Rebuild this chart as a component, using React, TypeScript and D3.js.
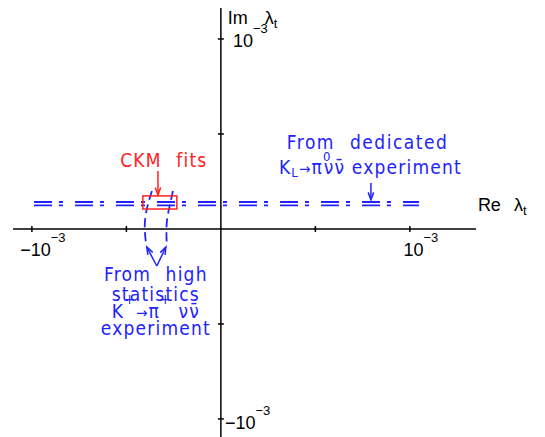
import React, { useEffect, useRef } from 'react';
import * as d3 from 'd3';

// all values in units of 1e-3
const reDomain = [-1.1, 1.35];
const imDomain = [-1.095, 1.163];
const reTicks = [-1, -0.5, 0.5, 1];
const imTicks = [-1, -0.5, 0.5, 1];
const labelledTicks = [-1, 1];

// KL -> pi0 nu nubar band (two dashed lines)
const klBandIm = [0.124, 0.142];
const klBandRe = [-0.989, 1.048];

// CKM fit box
const ckmRe = [-0.413, -0.233];
const ckmIm = [0.105, 0.174];

// K+ -> pi+ nu nubar constraint, two dashed curves
const kplusLeft: [number, number][] = [
  [-0.365, 0.2], [-0.381, 0.147], [-0.394, 0.095], [-0.402, 0.037], [-0.402, -0.016], [-0.397, -0.068],
];
const kplusRight: [number, number][] = [
  [-0.254, 0.2], [-0.265, 0.147], [-0.278, 0.089], [-0.286, 0.037], [-0.288, -0.026], [-0.286, -0.084],
];

// arrows: [from, to]
const redArrows: [number, number][][] = [[[-0.333, 0.305], [-0.333, 0.179]]];
const blueArrows: [number, number][][] = [
  [[0.794, 0.242], [0.794, 0.153]],
  [[-0.339, -0.195], [-0.392, -0.095]],
  [[-0.339, -0.195], [-0.291, -0.095]],
];

const BLUE = '#2222ff';
const RED = '#ff2222';
const HERSHEY = '"DejaVu Sans Condensed", "DejaVu Sans", sans-serif';
const AXISFONT = '"Liberation Sans", Arial, sans-serif';

type Part = { t: string; dy?: number; dx?: number; size?: number };

const App = () => {
  const ref = useRef<SVGSVGElement | null>(null);

  useEffect(() => {
    const svg = d3.select(ref.current);
    svg.selectAll('*').remove();

    const x = d3.scaleLinear().domain(reDomain).range([13, 476]);
    const y = d3.scaleLinear().domain(imDomain).range([437, 8]);
    const x0 = x(0), y0 = y(0);

    const rich = (px: number, py: number, parts: Part[], opts: any) => {
      const t = svg.append('text')
        .attr('x', px).attr('y', py)
        .attr('fill', opts.color)
        .attr('font-family', opts.font)
        .attr('font-size', opts.size)
        .attr('text-anchor', opts.anchor || 'start')
        .style('letter-spacing', (opts.ls || 0) + 'px')
        .style('word-spacing', (opts.ws || 0) + 'px')
        .style('white-space', 'pre');
      let shift = 0;
      parts.forEach(p => {
        const dy = (p.dy || 0) - shift;
        shift = p.dy || 0;
        const s = t.append('tspan').text(p.t).attr('dy', dy);
        if (p.dx) s.attr('dx', p.dx);
        if (p.size) s.attr('font-size', p.size);
      });
      return t;
    };

    // axes
    svg.append('line').attr('x1', x(reDomain[0])).attr('x2', x(reDomain[1]))
      .attr('y1', y0).attr('y2', y0).attr('stroke', '#000').attr('stroke-width', 1.5);
    svg.append('line').attr('x1', x0).attr('x2', x0)
      .attr('y1', y(imDomain[0])).attr('y2', y(imDomain[1])).attr('stroke', '#000').attr('stroke-width', 1.5);

    svg.selectAll('.xt').data(reTicks).enter().append('line')
      .attr('x1', d => x(d)).attr('x2', d => x(d))
      .attr('y1', y0 - 3).attr('y2', y0 + 3).attr('stroke', '#000').attr('stroke-width', 1.5);
    svg.selectAll('.yt').data(imTicks).enter().append('line')
      .attr('y1', d => y(d)).attr('y2', d => y(d))
      .attr('x1', x0 - 3).attr('x2', x0 + 3).attr('stroke', '#000').attr('stroke-width', 1.5);

    labelledTicks.forEach(v => {
      rich(x(v) + 11, y0 + 27, [
        { t: (v < 0 ? '\u2212' : '') + '10' },
        { t: '\u22123', dy: -14, size: 13 },
      ], { color: '#000', font: AXISFONT, size: 18, anchor: 'middle' });
      rich(x0 + (v < 0 ? 4 : 12), y(v) + (v < 0 ? 10 : 8), [
        { t: (v < 0 ? '\u2212' : '') + '10' },
        { t: '\u22123', dy: -14, size: 13 },
      ], { color: '#000', font: AXISFONT, size: 18 });
    });

    rich(x(0.037), y(1.079), [
      { t: 'Im' }, { t: '\u03bb', dx: 17 }, { t: 't', dy: 4, size: 13 },
    ], { color: '#000', font: AXISFONT, size: 18 });
    rich(x(1.36), y(0.095), [
      { t: 'Re' }, { t: '\u03bb', dx: 13 }, { t: 't', dy: 4, size: 13 },
    ], { color: '#000', font: AXISFONT, size: 18 });

    // KL band
    klBandIm.forEach(v => {
      svg.append('line')
        .attr('x1', x(klBandRe[0])).attr('x2', x(klBandRe[1]))
        .attr('y1', y(v)).attr('y2', y(v))
        .attr('stroke', BLUE).attr('stroke-width', 1.8)
        .attr('stroke-dasharray', '18,7,4,12');
    });

    // K+ curves
    const line = d3.line<[number, number]>().x(d => x(d[0])).y(d => y(d[1])).curve(d3.curveCatmullRom);
    [kplusLeft, kplusRight].forEach(c => {
      svg.append('path').attr('d', line(c)).attr('fill', 'none')
        .attr('stroke', BLUE).attr('stroke-width', 1.8).attr('stroke-dasharray', '9,5');
    });

    // CKM box
    svg.append('rect')
      .attr('x', x(ckmRe[0])).attr('y', y(ckmIm[1]))
      .attr('width', x(ckmRe[1]) - x(ckmRe[0])).attr('height', y(ckmIm[0]) - y(ckmIm[1]))
      .attr('fill', 'none').attr('stroke', RED).attr('stroke-width', 1.5);

    const arrow = (a: [number, number][], color: string) => {
      const [fx, fy] = [x(a[0][0]), y(a[0][1])];
      const [tx, ty] = [x(a[1][0]), y(a[1][1])];
      const ang = Math.atan2(ty - fy, tx - fx);
      const L = 8, w = 0.35;
      svg.append('line').attr('x1', fx).attr('y1', fy).attr('x2', tx).attr('y2', ty)
        .attr('stroke', color).attr('stroke-width', 1.5);
      svg.append('path')
        .attr('d', `M${tx - L * Math.cos(ang - w)},${ty - L * Math.sin(ang - w)}L${tx},${ty}L${tx - L * Math.cos(ang + w)},${ty - L * Math.sin(ang + w)}`)
        .attr('fill', 'none').attr('stroke', color).attr('stroke-width', 1.5);
    };
    redArrows.forEach(a => arrow(a, RED));
    blueArrows.forEach(a => arrow(a, BLUE));

    const hs = { font: HERSHEY, size: 19, ls: 1.2, ws: 8 };
    rich(x(-0.302), y(0.326), [{ t: 'CKM fits' }], { ...hs, color: RED, anchor: 'middle' });

    rich(x(0.349), y(0.421), [{ t: 'From dedicated' }], { ...hs, color: BLUE, ls: 1.5 });
    rich(x(0.307), y(0.289), [
      { t: 'K' }, { t: 'L', dy: 3, size: 13 }, { t: '\u2192', size: 15 }, { t: '\u03c0' },
      { t: '0', dy: -13, size: 13 }, { t: '\u03bd\u03bd\u0304', dx: -8 }, { t: ' experiment' },
    ], { ...hs, color: BLUE, ws: 0 });

    const kc = x(-0.344);
    rich(kc, y(-0.274), [{ t: 'From high' }], { ...hs, color: BLUE, anchor: 'middle' });
    rich(kc, y(-0.379), [{ t: 'statistics' }], { ...hs, color: BLUE, anchor: 'middle' });
    rich(kc, y(-0.468), [
      { t: 'K' }, { t: '+', dy: -14, size: 14 }, { t: '\u2192', size: 15 }, { t: '\u03c0' },
      { t: '+', dy: -14, size: 14 }, { t: ' \u03bd\u03bd\u0304' },
    ], { ...hs, color: BLUE, anchor: 'middle', ws: 0 });
    rich(kc, y(-0.558), [{ t: 'experiment' }], { ...hs, color: BLUE, anchor: 'middle' });
  }, []);

  return (
    <svg ref={ref} width={545} height={437}
      style={{ position: 'absolute', left: 0, top: 0, background: '#fff' }} />
  );
};

export default App;
